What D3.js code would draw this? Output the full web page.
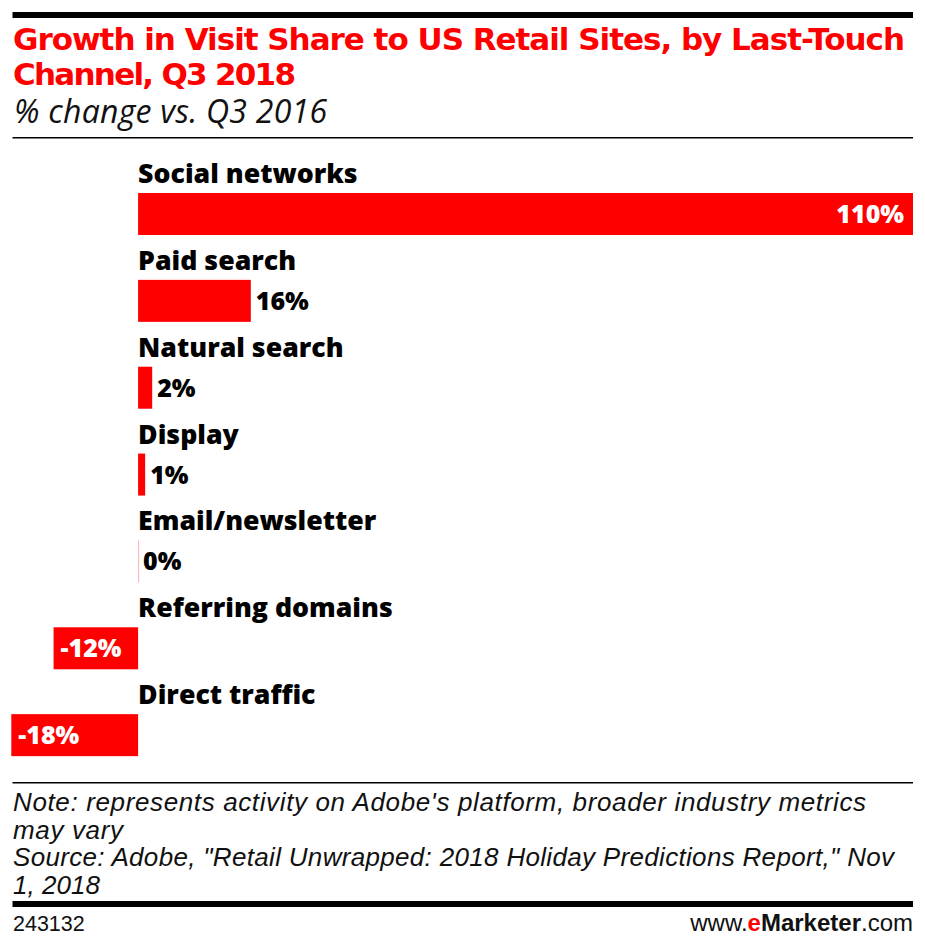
<!DOCTYPE html>
<html>
<head>
<meta charset="utf-8">
<script src="https://cdnjs.cloudflare.com/ajax/libs/d3/7.8.5/d3.min.js"></script>
<style>
html, body { margin: 0; padding: 0; background: #fff; }
svg { display: block; }
text { font-family: "Open Sans", sans-serif; }
</style>
</head>
<body>
<svg id="chart" width="925" height="947"></svg>
<script>
var categories = ["Social networks", "Paid search", "Natural search", "Display", "Email/newsletter", "Referring domains", "Direct traffic"];
var values = [110, 16, 2, 1, 0, -12, -18];
var titleLines = ["Growth in Visit Share to US Retail Sites, by Last-Touch", "Channel, Q3 2018"];
var subtitle = "% change vs. Q3 2016";
var noteLines = ["Note: represents activity on Adobe's platform, broader industry metrics", "may vary", "Source: Adobe, \"Retail Unwrapped: 2018 Holiday Predictions Report,\" Nov", "1, 2018"];

var svg = d3.select("#chart");
var red = "#ff0000";

var x = d3.scaleLinear().domain([-18, 110]).range([11.3, 913]);
var y = d3.scaleBand().domain(categories).range([163, 771]);

function rule(y0, h) {
    svg.append("rect").attr("x", 12.5).attr("y", y0).attr("width", 900.5).attr("height", h).attr("fill", "#000");
}
rule(12, 6);
rule(137, 1.5);
rule(782, 1.5);
rule(901, 6);

svg.selectAll(".title").data(titleLines).enter().append("text")
    .attr("x", 13).attr("y", function(d, i) { return 50 + i * 35; })
    .attr("font-size", 31).attr("font-weight", 800).attr("fill", red)
    .style("font-family", "'DejaVu Sans', sans-serif")
    .attr("textLength", function(d, i) { return i == 0 ? 892 : 283; })
    .text(function(d) { return d; });

svg.append("text").attr("x", 14).attr("y", 123)
    .attr("font-size", 32).attr("font-style", "italic").attr("fill", "#111")
    .attr("textLength", 313)
    .text(subtitle);

var rows = svg.selectAll(".row").data(categories).enter().append("g").attr("class", "row");

rows.append("text")
    .attr("x", x(0)).attr("y", function(d) { return y(d) + 20; })
    .attr("font-size", 26.7).attr("font-weight", 800).attr("fill", "#000")
    .text(function(d) { return d; });

rows.append("rect")
    .attr("x", function(d, i) { return Math.min(x(0), x(values[i])); })
    .attr("y", function(d) { return y(d) + 30; })
    .attr("width", function(d, i) { return values[i] == 0 ? 1 : Math.abs(x(values[i]) - x(0)); })
    .attr("height", 42)
    .attr("fill", function(d, i) { return values[i] == 0 ? "#ffb0b0" : red; });

rows.append("text")
    .attr("y", function(d) { return y(d) + 60; })
    .attr("x", function(d, i) {
        var v = values[i];
        if (v < 0) return x(v) + 7;
        if (v > 50) return x(v) - 9;
        return x(v) + 5;
    })
    .attr("text-anchor", function(d, i) { return values[i] > 50 ? "end" : "start"; })
    .attr("font-size", 25).attr("font-weight", 800)
    .attr("fill", function(d, i) { return (values[i] < 0 || values[i] > 50) ? "#fff" : "#000"; })
    .text(function(d, i) { return values[i] + "%"; });

svg.selectAll(".note").data(noteLines).enter().append("text")
    .attr("x", 13).attr("y", function(d, i) { return 811 + i * 27.7; })
    .attr("font-size", 26).attr("font-style", "italic").attr("fill", "#111")
    .style("font-family", "'Liberation Sans', sans-serif")
    .attr("textLength", function(d, i) { return [853, 110, 881, 87][i]; })
    .text(function(d) { return d; });

svg.append("text").attr("x", 13).attr("y", 931).attr("font-size", 21.5).attr("fill", "#111")
    .style("font-family", "'Liberation Sans', sans-serif").text("243132");

var brand = svg.append("text").attr("x", 913).attr("y", 931).attr("text-anchor", "end").attr("font-size", 24).attr("fill", "#111")
    .style("font-family", "'Liberation Sans', sans-serif");
brand.append("tspan").text("www.");
brand.append("tspan").attr("fill", red).attr("font-weight", "bold").text("e");
brand.append("tspan").attr("font-weight", "bold").text("Marketer");
brand.append("tspan").text(".com");
</script>
</body>
</html>
